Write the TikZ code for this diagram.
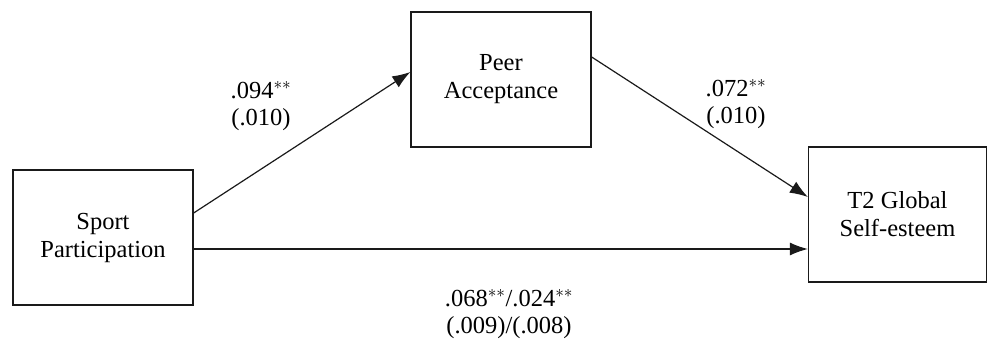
\documentclass[tikz,border=0pt]{standalone}
\usepackage{fontspec}
\setmainfont{Liberation Serif}
\usetikzlibrary{arrows.meta}

\definecolor{linecolor}{HTML}{1A1A1A}

\begin{document}
\begin{tikzpicture}[
    x=1pt, y=-1pt,
    varbox/.style={draw=linecolor, line width=1.3pt, minimum width=180pt,
        minimum height=135pt, align=center, inner sep=0pt,
        font=\fontsize{24.5}{28}\selectfont},
    coef/.style={align=center, inner sep=0pt,
        font=\fontsize{24.5}{27}\selectfont},
    path/.style={draw=linecolor, line width=1.2pt,
        -{Latex[length=18pt, width=13pt]}},
]

\useasboundingbox (0, 0) rectangle (988, 339);

% Variables
\node[varbox] (sport) at (103, 237.5) {Sport\\Participation};
\node[varbox] (peer) at (501, 79.5) {Peer\\Acceptance};
\node[varbox, minimum width=178pt] (self) at (897.5, 214.5) {T2 Global\\Self-esteem};

% Paths
\draw[path] ([yshift=24.5pt]sport.east) -- ([yshift=7.5pt]peer.west);
\draw[path] ([yshift=22.5pt]peer.east) -- ([yshift=17.5pt]self.west);
\draw[path] ([yshift=-11.5pt]sport.east) -- ([yshift=-34.5pt]self.west);

% Coefficients
\node[coef] (coefa) at (261, 106) {.094$^{**}$\\(.010)};
\node[coef] (coefb) at (736, 104) {.072$^{**}$\\(.010)};
\node[coef] (coefc) at (509, 314) {.068$^{**}$/.024$^{**}$\\(.009)/(.008)};

\end{tikzpicture}
\end{document}
